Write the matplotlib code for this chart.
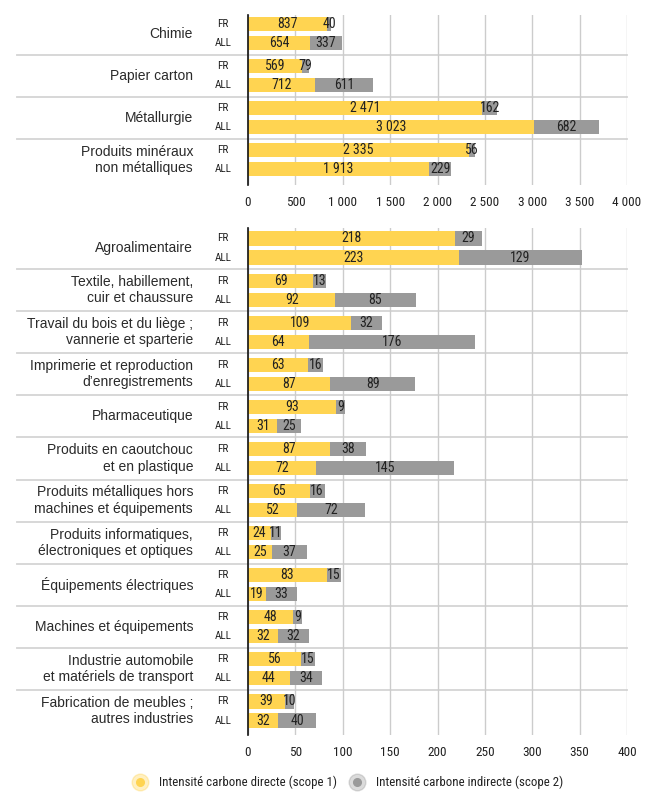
import matplotlib.pyplot as plt

# ---- données ----
cats_haut = ["Chimie", "Papier carton", "Métallurgie", "Produits minéraux\nnon métalliques"]
fr_dir_haut = [837, 569, 2471, 2335]
fr_ind_haut = [40, 79, 162, 56]
all_dir_haut = [654, 712, 3023, 1913]
all_ind_haut = [337, 611, 682, 229]

cats_bas = ["Agroalimentaire", "Textile, habillement,\ncuir et chaussure",
            "Travail du bois et du liège ;\nvannerie et sparterie",
            "Imprimerie et reproduction\nd’enregistrements", "Pharmaceutique",
            "Produits en caoutchouc\net en plastique",
            "Produits métalliques hors\nmachines et équipements",
            "Produits informatiques,\nélectroniques et optiques",
            "Équipements électriques", "Machines et équipements",
            "Industrie automobile\net matériels de transport",
            "Fabrication de meubles ;\nautres industries"]
fr_dir_bas = [218, 69, 109, 63, 93, 87, 65, 24, 83, 48, 56, 39]
fr_ind_bas = [29, 13, 32, 16, 9, 38, 16, 11, 15, 9, 15, 10]
all_dir_bas = [223, 92, 64, 87, 31, 72, 52, 25, 19, 32, 44, 32]
all_ind_bas = [129, 85, 176, 89, 25, 145, 72, 37, 33, 32, 34, 40]

ticks_haut = [0, 500, 1000, 1500, 2000, 2500, 3000, 3500, 4000]
ticks_bas = [0, 50, 100, 150, 200, 250, 300, 350, 400]

JAUNE = "#FFD451"
GRIS = "#9A9A9A"
TXT = "#222222"
NARROW = ["Roboto Condensed", "Archivo Narrow", "DejaVu Sans"]
REG = ["Liberation Sans", "DejaVu Sans"]


def fmt(v):
    return f"{v:,}".replace(",", " ")


def panneau(ax, cats, frd, fri, alld, alli, ticks):
    n = len(cats)
    off, h = 0.226, 0.335
    for i in range(n):
        for y, d, ind, lab in [(i - off, frd[i], fri[i], "FR"), (i + off, alld[i], alli[i], "ALL")]:
            ax.barh(y, d, height=h, color=JAUNE, zorder=2)
            ax.barh(y, ind, left=d, height=h, color=GRIS, zorder=2)
            ax.text(d / 2, y, fmt(d), ha="center", va="center", fontsize=10,
                    family=NARROW, stretch="condensed", color=TXT, zorder=3)
            ax.text(d + ind / 2, y, fmt(ind), ha="center", va="center", fontsize=10,
                    family=NARROW, stretch="condensed", color=TXT, zorder=3)
            ax.text(-0.066, y, lab, transform=ax.get_yaxis_transform(), ha="center",
                    va="center", fontsize=8, family=NARROW, stretch="condensed", color=TXT)
        ax.text(-0.145, i, cats[i], transform=ax.get_yaxis_transform(), ha="right",
                va="center", fontsize=10, family=REG, color="#2a2a2a", linespacing=1.2)
        if i < n - 1:
            ax.plot([-0.61, 1.0], [i + 0.5, i + 0.5], transform=ax.get_yaxis_transform(),
                    color="#d4d4d4", lw=1.3, clip_on=False, zorder=1)
    ax.set_xlim(ticks[0], ticks[-1])
    ax.set_xticks(ticks)
    ax.set_xticklabels([fmt(t) for t in ticks], family=NARROW, stretch="condensed",
                       fontsize=9.5, color=TXT)
    ax.set_yticks([])
    ax.tick_params(axis="x", length=0, pad=8)
    ax.grid(axis="x", color="#cccccc", lw=1, zorder=0)
    for s in ["top", "right", "bottom"]:
        ax.spines[s].set_visible(False)
    ax.spines["left"].set_color("#111111")
    ax.spines["left"].set_linewidth(1.2)
    ax.spines["left"].set_zorder(4)


fig = plt.figure(figsize=(6.47, 8), dpi=100)
ax1 = fig.add_axes([0.3833, 0.76875, 0.5858, 0.2125])
ax2 = fig.add_axes([0.3833, 0.08125, 0.5858, 0.63375])

panneau(ax1, cats_haut, fr_dir_haut, fr_ind_haut, all_dir_haut, all_ind_haut, ticks_haut)
ax1.set_ylim(3.6, -0.45)
panneau(ax2, cats_bas, fr_dir_bas, fr_ind_bas, all_dir_bas, all_ind_bas, ticks_bas)
ax2.set_ylim(11.57, -0.475)

# légende
yl = 1 - 782 / 800
for x, c, t in [(140, JAUNE, "Intensité carbone directe (scope 1)"),
                (357, GRIS, "Intensité carbone indirecte (scope 2)")]:
    xf = x / 647
    fig.lines.append(plt.Line2D([xf], [yl], marker="o", ms=12, color=c, alpha=0.35,
                                lw=0, transform=fig.transFigure))
    fig.lines.append(plt.Line2D([xf], [yl], marker="o", ms=5.5, color=c, lw=0,
                                transform=fig.transFigure))
    fig.text(xf + 19 / 647, yl, t, ha="left", va="center", fontsize=9.3,
             family=NARROW, stretch="condensed", color=TXT)

fig.savefig("out.png", dpi=100, facecolor="white")
